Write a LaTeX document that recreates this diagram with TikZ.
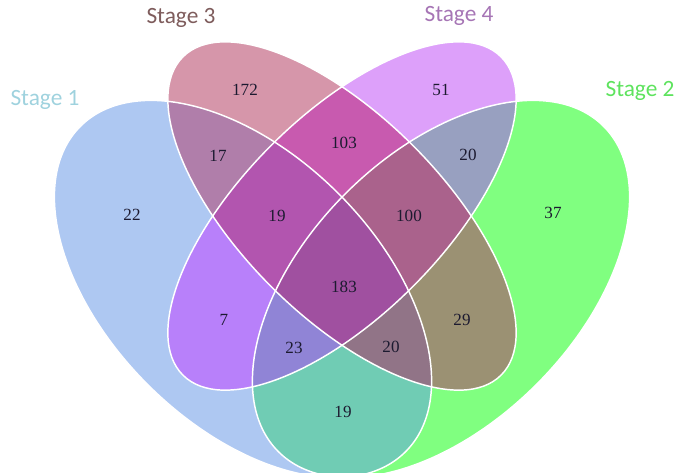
\documentclass[tikz,border=0pt]{standalone}
\usepackage{fontspec}
\setmainfont{Liberation Serif}
\newfontfamily\stagefont{Carlito}
\usepackage{tikz}
\usepackage{xcolor}
% region colours
\definecolor{one}{HTML}{AEC8F2}
\definecolor{two}{HTML}{80FF80}
\definecolor{three}{HTML}{D696AA}
\definecolor{four}{HTML}{DDA0FA}
\definecolor{onetwo}{HTML}{70CCB4}
\definecolor{onethree}{HTML}{B07EAA}
\definecolor{onefour}{HTML}{B880FA}
\definecolor{twothree}{HTML}{9B9173}
\definecolor{twofour}{HTML}{98A0C0}
\definecolor{threefour}{HTML}{C85AAF}
\definecolor{notwo}{HTML}{B255AF}
\definecolor{noone}{HTML}{AA628C}
\definecolor{nothree}{HTML}{9084D6}
\definecolor{nofour}{HTML}{917487}
\definecolor{allfour}{HTML}{A050A0}
% label colours
\definecolor{lone}{HTML}{9FD2DE}
\definecolor{ltwo}{HTML}{5EE35E}
\definecolor{lthree}{HTML}{7E5C5C}
\definecolor{lfour}{HTML}{A675B5}
\definecolor{numtext}{HTML}{1C1A30}
% the four sets
\newcommand{\setone}{(243,289) circle[x radius=230,y radius=135,rotate=-45]}
\newcommand{\settwo}{(441,289) circle[x radius=230,y radius=135,rotate=45]}
\newcommand{\setthree}{(342,216) circle[x radius=225,y radius=100,rotate=-45]}
\newcommand{\setfour}{(342,216) circle[x radius=225,y radius=100,rotate=45]}

\begin{document}
\begin{tikzpicture}[x=0.75pt,y=-0.75pt,
  num/.style={text=numtext,font=\fontsize{12.8}{14}\selectfont},
  stagelabel/.style={font=\stagefont\fontsize{17.5}{20}\selectfont},
  outline/.style={draw=white,line width=1.1pt}]
\useasboundingbox (0,0) rectangle (678,473);
% one set
\fill[one] \setone;
\fill[two] \settwo;
\fill[three] \setthree;
\fill[four] \setfour;
% two sets
\begin{scope}\clip \setone; \fill[onetwo] \settwo; \end{scope}
\begin{scope}\clip \setone; \fill[onethree] \setthree; \end{scope}
\begin{scope}\clip \setone; \fill[onefour] \setfour; \end{scope}
\begin{scope}\clip \settwo; \fill[twothree] \setthree; \end{scope}
\begin{scope}\clip \settwo; \fill[twofour] \setfour; \end{scope}
\begin{scope}\clip \setthree; \fill[threefour] \setfour; \end{scope}
% three sets
\begin{scope}\clip \setone; \clip \setthree; \fill[notwo] \setfour; \end{scope}
\begin{scope}\clip \settwo; \clip \setthree; \fill[noone] \setfour; \end{scope}
\begin{scope}\clip \setone; \clip \settwo; \fill[nothree] \setfour; \end{scope}
\begin{scope}\clip \setone; \clip \settwo; \fill[nofour] \setthree; \end{scope}
% four sets
\begin{scope}\clip \setone; \clip \settwo; \clip \setthree; \fill[allfour] \setfour; \end{scope}
% borders
\draw[outline] \setone;
\draw[outline] \settwo;
\draw[outline] \setthree;
\draw[outline] \setfour;

\node[stagelabel,text=lone] (s1) at (45,100) {Stage 1};
\node[stagelabel,text=ltwo] (s2) at (640,91) {Stage 2};
\node[stagelabel,text=lthree] (s3) at (181,18) {Stage 3};
\node[stagelabel,text=lfour] (s4) at (459,16) {Stage 4};

\node[num] (n3) at (245,90) {172};
\node[num] (n4) at (441,90) {51};
\node[num] (n1) at (132,215) {22};
\node[num] (n2) at (553,213) {37};
\node[num] (n13) at (218,156) {17};
\node[num] (n24) at (468,155) {20};
\node[num] (n34) at (344,143) {103};
\node[num] (n134) at (277,216) {19};
\node[num] (n234) at (409,216) {100};
\node[num] (n1234) at (344,287) {183};
\node[num] (n14) at (224,320) {7};
\node[num] (n23) at (462,320) {29};
\node[num] (n124) at (294,348) {23};
\node[num] (n123) at (391,347) {20};
\node[num] (n12) at (343,412) {19};
\end{tikzpicture}
\end{document}
